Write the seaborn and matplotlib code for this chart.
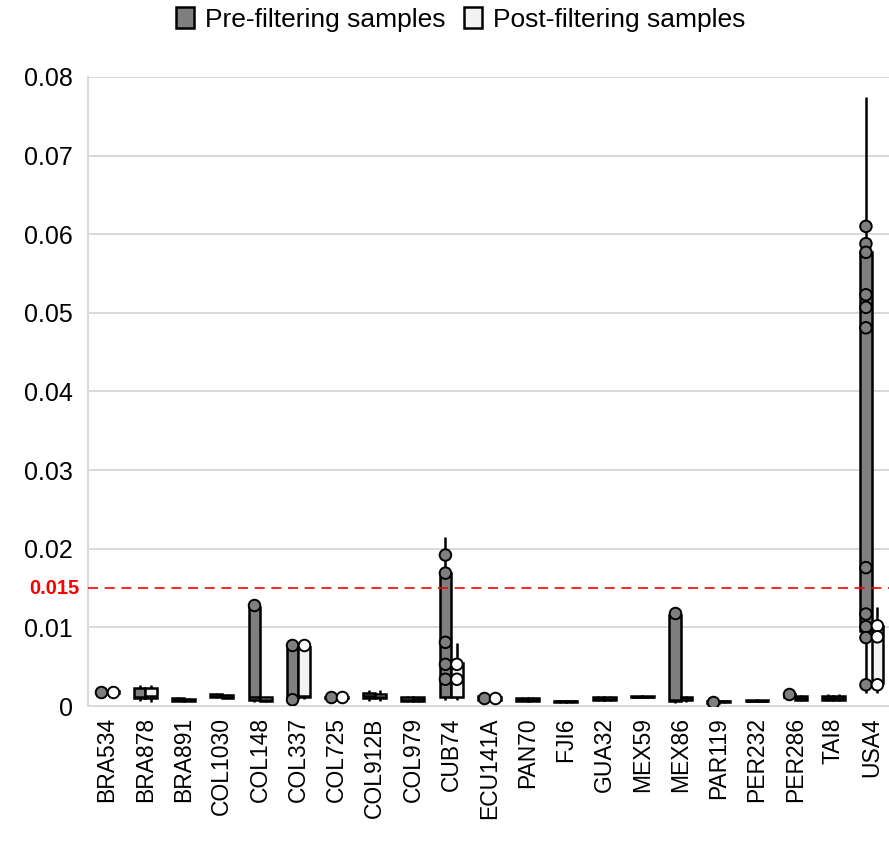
import matplotlib
matplotlib.use("Agg")
import matplotlib.pyplot as plt
from matplotlib.patches import Patch
from matplotlib.ticker import FuncFormatter
import seaborn as sns
import pandas as pd
import numpy as np

# sample groups (x axis)
groups = ["BRA534", "BRA878", "BRA891", "COL1030", "COL148", "COL337", "COL725",
          "COL912B", "COL979", "CUB74", "ECU141A", "PAN70", "FJI6", "GUA32",
          "MEX59", "MEX86", "PAR119", "PER232", "PER286", "TAI8", "USA4"]

# box values per group: [low whisker, Q1, median, Q3, high whisker]
pre_boxes = [
    [0.0015, 0.0016, 0.0018, 0.0019, 0.0020],
    [0.0006, 0.0010, 0.0012, 0.0023, 0.0027],
    [0.0006, 0.0007, 0.0008, 0.0010, 0.0011],
    [0.0010, 0.0012, 0.0013, 0.0015, 0.0016],
    [0.0005, 0.0008, 0.0011, 0.0126, 0.0134],
    [0.0006, 0.0010, 0.0012, 0.0075, 0.0080],
    [0.0009, 0.0010, 0.0011, 0.0012, 0.0013],
    [0.0007, 0.0010, 0.0013, 0.0016, 0.0020],
    [0.0005, 0.0006, 0.0008, 0.0012, 0.0013],
    [0.0008, 0.0012, 0.0053, 0.0169, 0.0215],
    [0.0007, 0.0008, 0.0010, 0.0013, 0.0015],
    [0.0006, 0.0007, 0.0009, 0.0010, 0.0011],
    [0.0004, 0.0005, 0.0006, 0.0007, 0.0008],
    [0.0006, 0.0008, 0.0010, 0.0011, 0.0013],
    [0.0010, 0.0011, 0.0012, 0.0013, 0.0013],
    [0.0004, 0.0006, 0.0008, 0.0116, 0.0120],
    [0.0003, 0.0004, 0.0005, 0.0006, 0.0007],
    [0.0005, 0.0006, 0.0007, 0.0008, 0.0008],
    [0.0010, 0.0012, 0.0013, 0.0015, 0.0016],
    [0.0007, 0.0008, 0.0010, 0.0013, 0.0015],
    [0.0017, 0.0095, 0.0117, 0.0577, 0.0775],
]
post_boxes = [
    [0.0015, 0.0016, 0.0017, 0.0019, 0.0020],
    [0.0005, 0.0010, 0.0013, 0.0023, 0.0027],
    [0.0006, 0.0007, 0.0008, 0.0009, 0.0010],
    [0.0009, 0.0010, 0.0012, 0.0014, 0.0015],
    [0.0005, 0.0006, 0.0008, 0.0011, 0.0012],
    [0.0009, 0.0012, 0.0013, 0.0075, 0.0080],
    [0.0009, 0.0010, 0.0011, 0.0012, 0.0013],
    [0.0007, 0.0010, 0.0012, 0.0015, 0.0020],
    [0.0005, 0.0007, 0.0009, 0.0011, 0.0012],
    [0.0008, 0.0011, 0.0034, 0.0055, 0.0080],
    [0.0007, 0.0008, 0.0010, 0.0012, 0.0014],
    [0.0006, 0.0007, 0.0008, 0.0010, 0.0011],
    [0.0004, 0.0005, 0.0006, 0.0007, 0.0008],
    [0.0006, 0.0008, 0.0009, 0.0011, 0.0013],
    [0.0010, 0.0011, 0.0012, 0.0013, 0.0013],
    [0.0005, 0.0008, 0.0010, 0.0012, 0.0013],
    [0.0004, 0.0005, 0.0006, 0.0007, 0.0008],
    [0.0005, 0.0006, 0.0007, 0.0008, 0.0008],
    [0.0007, 0.0008, 0.0010, 0.0013, 0.0014],
    [0.0006, 0.0008, 0.0010, 0.0013, 0.0015],
    [0.0017, 0.0029, 0.0088, 0.0102, 0.0126],
]

# individual points shown as circles
pre_dots = {
    "BRA534": [0.0018], "COL148": [0.0128], "COL337": [0.0077, 0.0008],
    "COL725": [0.0011], "CUB74": [0.0192, 0.0169, 0.0081, 0.0053, 0.0034],
    "ECU141A": [0.0010], "MEX86": [0.0118], "PAR119": [0.0005], "PER286": [0.0015],
    "USA4": [0.0610, 0.0588, 0.0577, 0.0523, 0.0507, 0.0481, 0.0176,
             0.0117, 0.0101, 0.0087, 0.0027],
}
post_dots = {
    "BRA534": [0.0018], "COL337": [0.0077], "COL725": [0.0011],
    "CUB74": [0.0053, 0.0034], "ECU141A": [0.0010],
    "USA4": [0.0102, 0.0088, 0.0027],
}

THRESHOLD = 0.015
hue_names = ["Pre-filtering samples", "Post-filtering samples"]
box_colors = {"Pre-filtering samples": "#7f7f7f", "Post-filtering samples": "#f2f2f2"}
dot_colors = {"Pre-filtering samples": "#7f7f7f", "Post-filtering samples": "white"}

rows = []
for g, pre, post in zip(groups, pre_boxes, post_boxes):
    for v in pre:
        rows.append((g, hue_names[0], v))
    for v in post:
        rows.append((g, hue_names[1], v))
box_df = pd.DataFrame(rows, columns=["group", "set", "value"])

rows = []
for name, dots in zip(hue_names, [pre_dots, post_dots]):
    for g, vals in dots.items():
        for v in vals:
            rows.append((g, name, v))
dot_df = pd.DataFrame(rows, columns=["group", "set", "value"])

sns.set_style("white")
plt.rcParams["font.family"] = ["Liberation Sans", "DejaVu Sans"]
plt.rcParams["text.color"] = "black"
plt.rcParams["xtick.color"] = "black"
plt.rcParams["ytick.color"] = "black"

fig = plt.figure(figsize=(8.89, 8.42), dpi=100)
ax = fig.add_axes([0.099, 0.1615, 0.903, 0.7471])

sns.boxplot(data=box_df, x="group", y="value", hue="set", order=groups,
            hue_order=hue_names, palette=box_colors, saturation=1,
            width=0.6, gap=0, whis=(0, 100), showfliers=False, showcaps=False,
            linecolor="black", linewidth=1.8, legend=False, ax=ax)

n_before = len(ax.collections)
sns.stripplot(data=dot_df, x="group", y="value", hue="set", order=groups,
              hue_order=hue_names, palette=dot_colors, dodge=True, jitter=False,
              size=8.3, edgecolor="black", linewidth=1.4, legend=False, ax=ax, zorder=4)
# stripplot dodges by 0.8 width; pull points onto the 0.6-wide boxes
for coll in ax.collections[n_before:]:
    off = coll.get_offsets()
    if len(off):
        centre = np.round(off[:, 0])
        off[:, 0] = centre + (off[:, 0] - centre) * 0.75
        coll.set_offsets(off)

ax.axhline(THRESHOLD, color="red", linestyle=(0, (6, 4)), linewidth=1.2, zorder=3)
ax.text(-0.01, THRESHOLD, "0.015", color="red", fontweight="bold", fontsize=14.5,
        ha="right", va="center", transform=ax.get_yaxis_transform())

ax.set_ylim(0, 0.08)
ax.set_xlim(-0.5, len(groups) - 0.5)
ax.yaxis.set_major_formatter(FuncFormatter(lambda v, p: f"{v:g}"))
ax.set_yticks(np.arange(0, 0.081, 0.01))
ax.yaxis.grid(True, color="#d9d9d9", linewidth=1.4)
ax.set_axisbelow(True)
ax.set_xlabel("")
ax.set_ylabel("")
ax.tick_params(axis="y", labelsize=18, length=0, pad=11)
ax.tick_params(axis="x", labelsize=16.5, length=0, rotation=90, pad=8)
for side in ["top", "right"]:
    ax.spines[side].set_visible(False)
for side in ["left", "bottom"]:
    ax.spines[side].set_color("#d9d9d9")
    ax.spines[side].set_linewidth(1.4)

handles = [Patch(facecolor=box_colors[n], edgecolor="black", linewidth=1.8, label=n)
           for n in hue_names]
fig.legend(handles=handles, loc="upper center", bbox_to_anchor=(0.518, 1.02), ncol=2,
           frameon=False, fontsize=19, handlelength=0.7, handleheight=0.85,
           handletextpad=0.4, columnspacing=0.7)

fig.savefig("out.png", dpi=100)
